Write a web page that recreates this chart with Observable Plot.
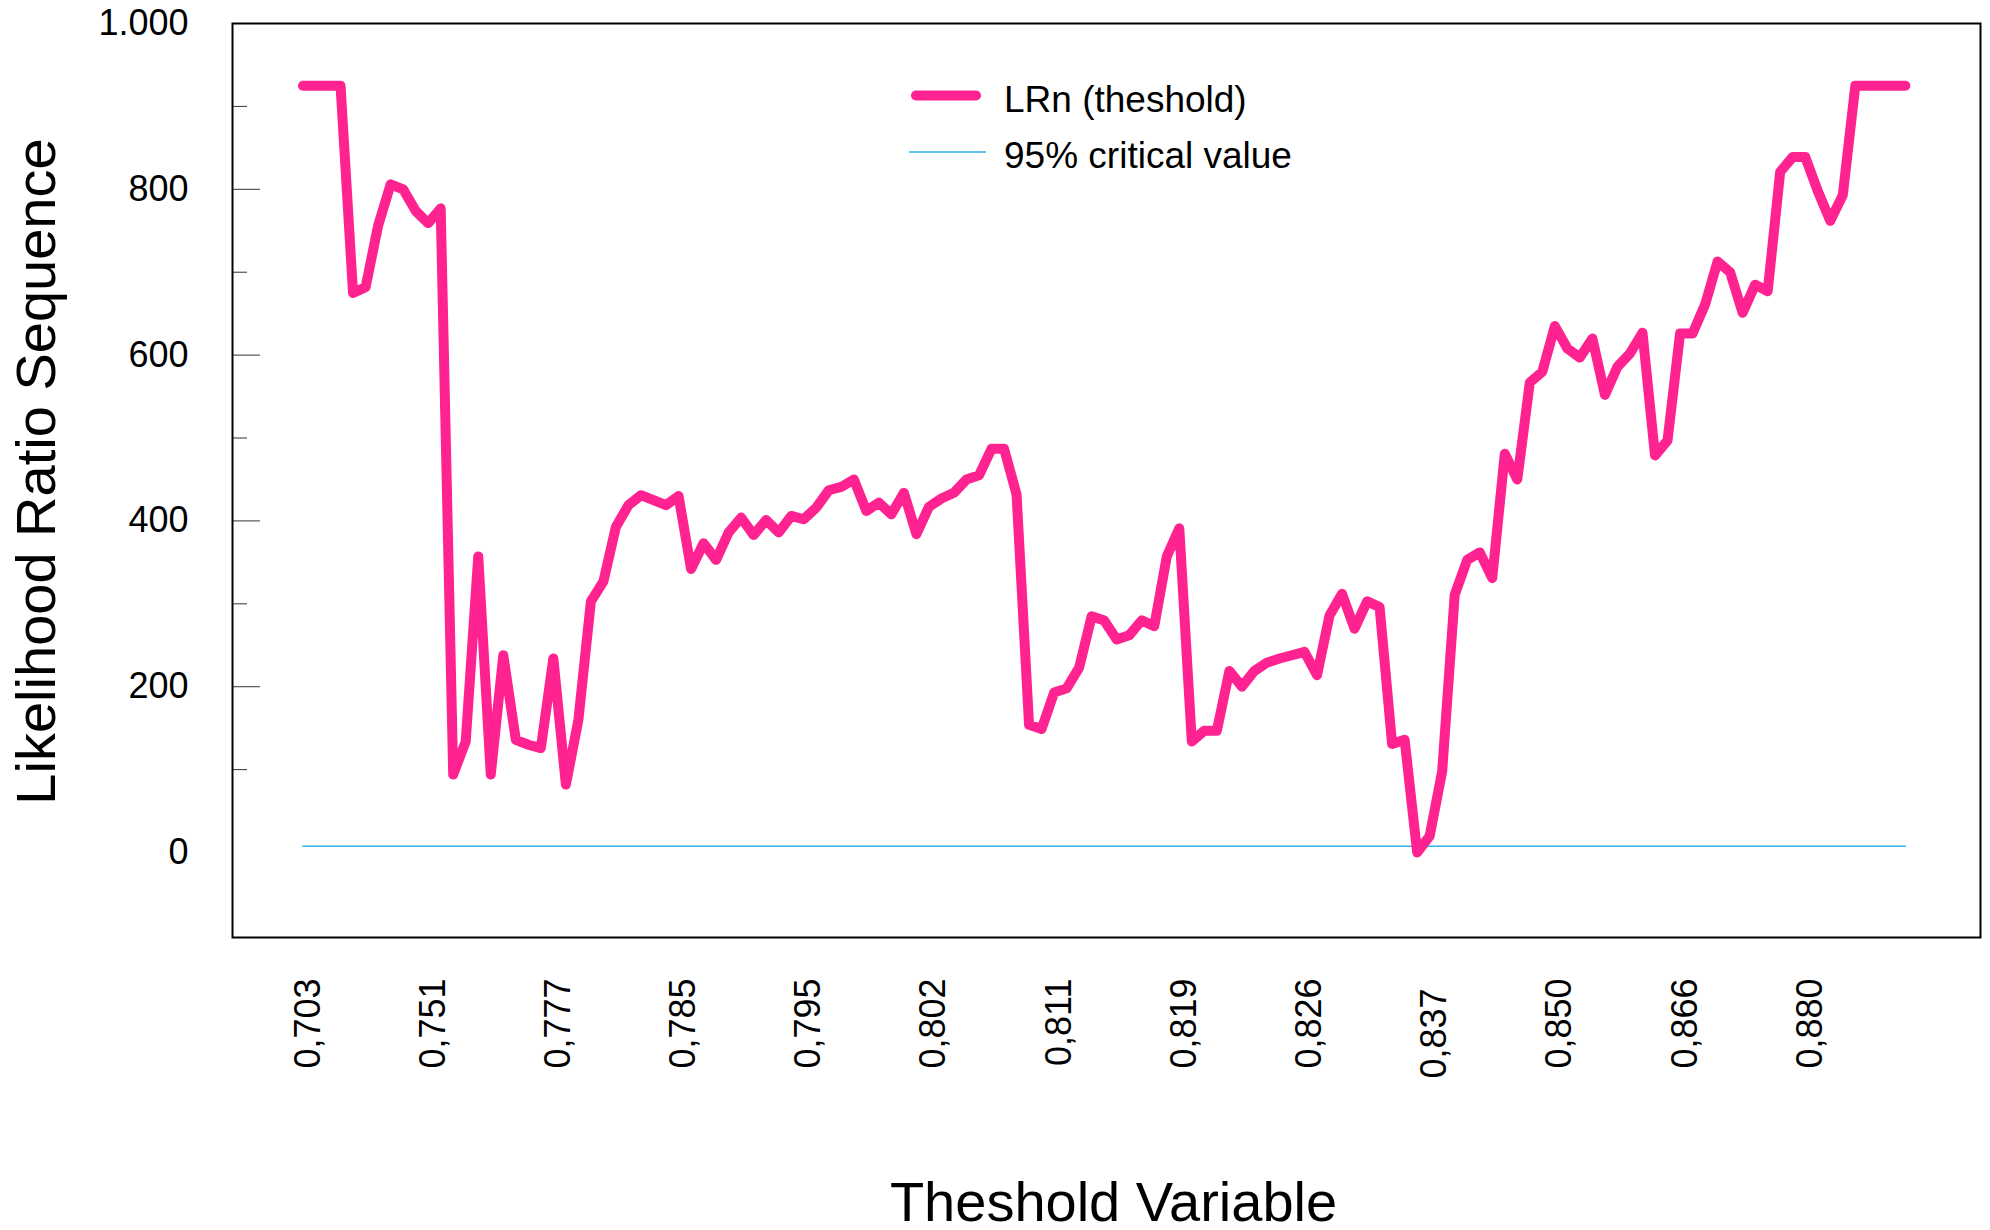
<!DOCTYPE html>
<html><head><meta charset="utf-8">
<script src="https://cdn.jsdelivr.net/npm/d3@7"></script>
<script src="https://cdn.jsdelivr.net/npm/@observablehq/plot@0.6"></script>
<style>
html,body{margin:0;padding:0;background:#fff;}
#wrap{position:relative;width:1990px;height:1230px;font-family:"Liberation Sans",Arial,sans-serif;}
#legend{position:absolute;left:0;top:0;pointer-events:none;}
</style></head>
<body><div id="wrap"></div>
<script>
// x tick labels (every 10th threshold value)
const thresholdTicks = ["0,703","0,751","0,777","0,785","0,795","0,802","0,811","0,819","0,826","0,837","0,850","0,866","0,880"];
// LRn(threshold) sequence, one value per ordered threshold
const lrn = [
 925,925,925,925,675,682,756,806,800,774,
 759,777,94,134,357,94,238,136,130,126,
 234,82,160,303,327,393,419,431,425,419,
 430,342,373,353,386,404,383,401,386,406,
 402,416,437,441,450,412,422,408,434,384,
 417,427,434,450,455,487,487,432,154,149,
 193,198,223,285,280,257,262,280,273,357,
 391,134,147,147,219,200,219,229,234,238,
 242,214,286,312,270,303,296,131,136,0,
 20,98,311,353,362,331,481,450,567,580,
 635,608,597,620,552,586,602,627,479,497,
 626,626,661,713,700,651,685,677,821,839,
 839,798,762,793,925,925,925,925,925
];
const criticalValue = 7.5;
const seriesNames = ["LRn (theshold)", "95% critical value"];
const seriesColors = ["#ff2391", "#2cb5e8"];
const yMajor = [200,400,600,800];
const yMinor = [100,300,500,700,900];
const yLabels = [0,200,400,600,800,1000];
const xTitle = "Theshold Variable";
const yTitle = "Likelihood Ratio Sequence";

const data = lrn.map((v, i) => ({i, lrn: v, crit: criticalValue}));
const fmt = d3.formatLocale({decimal: ",", thousands: ".", grouping: [3], currency: ["", ""]}).format(",");
const xTicks = thresholdTicks.map((_, k) => k * 10);
const xFmt = t => thresholdTicks[Math.round(t / 10)];
const font = "Liberation Sans, Arial, sans-serif";

const plot = Plot.plot({
  width: 1990, height: 1230,
  marginLeft: 232, marginRight: 10, marginTop: 23, marginBottom: 293,
  style: {fontFamily: font, background: "#fff", color: "#000", overflow: "visible"},
  x: {domain: [-5.63, 134]},
  y: {domain: [-102.5, 1000]},
  marks: [
    Plot.line(data, {x: "i", y: "crit", stroke: seriesColors[1], strokeWidth: 1.5}),
    Plot.line(data, {x: "i", y: "lrn", stroke: seriesColors[0], strokeWidth: 10, strokeLinecap: "round", strokeLinejoin: "round"}),
    Plot.axisY({ticks: yMajor, tickSize: -28, text: null, stroke: "#333", label: null}),
    Plot.axisY({ticks: yMinor, tickSize: -15, text: null, stroke: "#333", label: null}),
    Plot.axisY({ticks: yLabels, tickSize: 0, tickPadding: 44, tickFormat: fmt, fontSize: 36, label: null}),
    Plot.axisX({ticks: xTicks.filter(t => t !== 90), tickSize: 0, tickRotate: -90, tickPadding: 41, dx: 5, tickFormat: xFmt, fontSize: 36, label: null}),
    Plot.axisX({ticks: [90], tickSize: 0, tickRotate: -90, tickPadding: 51, dx: 5, tickFormat: xFmt, fontSize: 36, label: null}),
    Plot.text([yTitle], {frameAnchor: "left", rotate: -90, lineAnchor: "top", textAnchor: "middle", dx: -217, dy: -9, fontSize: 56, fill: "#000"}),
    Plot.text([xTitle], {frameAnchor: "bottom", lineAnchor: "bottom", textAnchor: "middle", dx: 7, dy: 283, fontSize: 56, fill: "#000"}),
    Plot.frame({stroke: "#000", strokeWidth: 2})
  ]
});
const wrap = document.getElementById("wrap");
wrap.appendChild(plot);

// legend (inside plot area, top)
const leg = d3.select(wrap).append("svg").attr("id", "legend").attr("width", 1990).attr("height", 1230);
const rows = [
  {name: seriesNames[0], color: seriesColors[0], w: 10, x1: 916, x2: 976, y: 95.5, cap: "round", ty: 112},
  {name: seriesNames[1], color: seriesColors[1], w: 1.5, x1: 909, x2: 986, y: 152, cap: "butt", ty: 168}
];
for (const r of rows) {
  leg.append("line").attr("x1", r.x1).attr("x2", r.x2).attr("y1", r.y).attr("y2", r.y)
    .attr("stroke", r.color).attr("stroke-width", r.w).attr("stroke-linecap", r.cap);
  leg.append("text").attr("x", 1004).attr("y", r.ty).attr("font-family", font).attr("font-size", 37)
    .attr("fill", "#000").text(r.name);
}
</script>
</body></html>
